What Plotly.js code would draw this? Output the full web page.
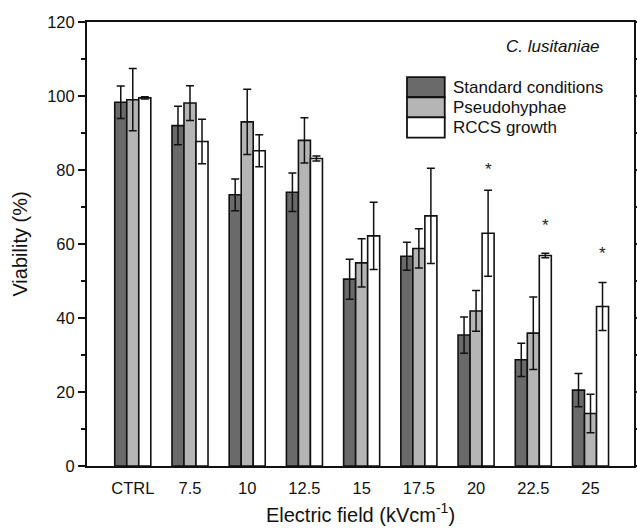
<!DOCTYPE html>
<html>
<head>
<meta charset="utf-8">
<script src="https://cdn.plot.ly/plotly-3.0.1.min.js"></script>
<style>html,body{margin:0;padding:0;background:#fff;}#chart{width:637px;height:530px;}</style>
</head>
<body>
<div id="chart"></div>
<script>
// ---- data ----
const categories = ['CTRL', '7.5', '10', '12.5', '15', '17.5', '20', '22.5', '25'];
const seriesNames = ['Standard conditions', 'Pseudohyphae', 'RCCS growth'];
const standardVals = [98.3, 92.0, 73.3, 74.0, 50.5, 56.7, 35.4, 28.7, 20.5];
const standardErr  = [4.4, 5.2, 4.3, 5.2, 5.4, 3.8, 4.9, 4.5, 4.5];
const pseudoVals   = [99.0, 98.1, 93.0, 88.0, 54.9, 58.8, 41.9, 35.9, 14.2];
const pseudoErr    = [8.4, 4.7, 8.8, 6.1, 6.5, 5.3, 5.5, 9.8, 5.2];
const rccsVals     = [99.5, 87.7, 85.2, 83.1, 62.2, 67.6, 62.9, 56.9, 43.1];
const rccsErr      = [0.3, 6.0, 4.3, 0.7, 9.1, 12.9, 11.6, 0.6, 6.5];
const starCategories = ['20', '22.5', '25'];
const starY = [81.2, 66.0, 58.6];
const yTicks = [0, 20, 40, 60, 80, 100, 120];

// ---- styles ----
const colors = ['#6a6a6a', '#b5b5b5', '#ffffff'];
const font = 'Liberation Sans, Arial, sans-serif';
const vals = [standardVals, pseudoVals, rccsVals];
const errs = [standardErr, pseudoErr, rccsErr];

const traces = vals.map((v, i) => ({
  type: 'bar',
  name: seriesNames[i],
  x: categories,
  y: v,
  error_y: {type: 'data', array: errs[i], visible: true, color: '#111', thickness: 1.5, width: 4},
  marker: {color: colors[i], line: {color: '#111', width: 1.6}},
  showlegend: false
}));

const bargap = 0.37;
const barW = (1 - bargap) / 3;

const annotations = starCategories.map((c, k) => ({
  xref: 'x', yref: 'y',
  x: categories.indexOf(c) + barW,
  y: starY[k],
  text: '*', showarrow: false,
  font: {family: font, size: 17, color: '#222'},
  yshift: -4
}));

// custom legend
const legX0 = 0.585, legX1 = 0.654, legTop = 0.876, legH = 0.0455;
const shapes = [];
seriesNames.forEach((n, i) => {
  const y1 = legTop - i * legH, y0 = y1 - legH;
  shapes.push({type: 'rect', xref: 'paper', yref: 'paper', x0: legX0, x1: legX1, y0: y0, y1: y1,
    fillcolor: colors[i], line: {color: '#111', width: 1.8}});
  annotations.push({xref: 'paper', yref: 'paper', x: legX1 + 0.011, y: (y0 + y1) / 2,
    xanchor: 'left', yanchor: 'middle', text: n, showarrow: false,
    font: {family: font, size: 17, color: '#111'}});
});
annotations.push({xref: 'paper', yref: 'paper', x: 0.941, y: 0.944, xanchor: 'right', yanchor: 'middle',
  text: '<i>C. lusitaniae</i>', showarrow: false, font: {family: font, size: 17, color: '#111'}});

const layout = {
  width: 637, height: 530,
  margin: {l: 87, r: 3, t: 22, b: 64},
  paper_bgcolor: '#fff', plot_bgcolor: '#fff',
  barmode: 'group', bargap: bargap, bargroupgap: 0,
  font: {family: font, color: '#111'},
  xaxis: {
    type: 'category', range: [-0.8, 8.76],
    showline: true, linecolor: '#111', linewidth: 2, mirror: true,
    ticks: 'outside', ticklen: 6, tickcolor: 'rgba(0,0,0,0)',
    tickfont: {family: font, size: 16.5, color: '#111'},
    title: {text: 'Electric field (kVcm<sup>-1</sup>)', font: {family: font, size: 20, color: '#111'}, standoff: 12},
    showgrid: false, zeroline: false
  },
  yaxis: {
    range: [0, 120], tickvals: yTicks,
    showline: true, linecolor: '#111', linewidth: 2, mirror: 'ticks',
    ticks: 'outside', ticklen: 7, tickwidth: 1.5, tickcolor: '#111',
    minor: {dtick: 10, ticks: 'outside', ticklen: 4, tickwidth: 1.2, tickcolor: '#111'},
    tickfont: {family: font, size: 16.5, color: '#111'},
    title: {text: 'Viability (%)', font: {family: font, size: 20, color: '#111'}, standoff: 14},
    showgrid: false, zeroline: false
  },
  shapes: shapes,
  annotations: annotations
};

Plotly.newPlot('chart', traces, layout, {displayModeBar: false, staticPlot: true});
</script>
</body>
</html>
